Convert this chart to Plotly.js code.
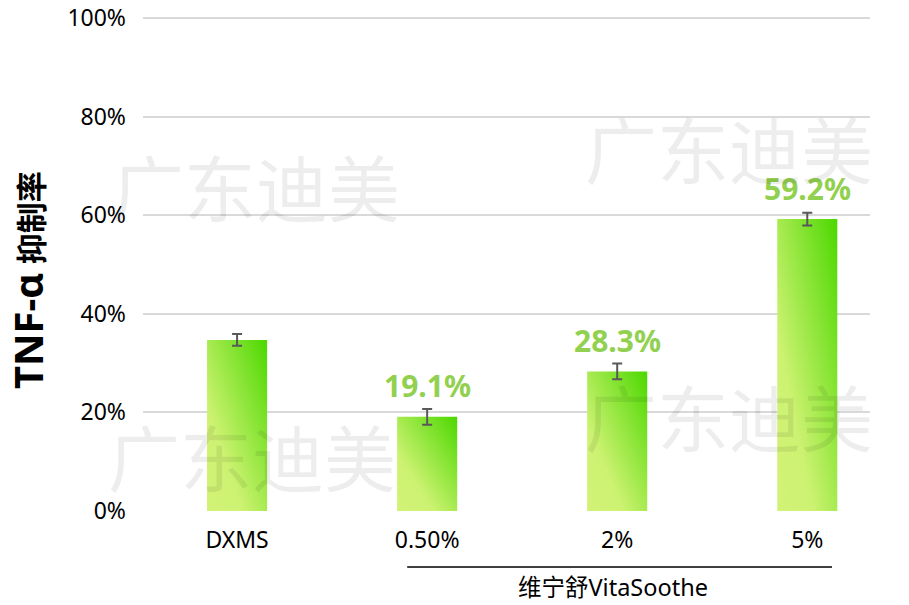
<!DOCTYPE html>
<html>
<head>
<meta charset="utf-8">
<script src="https://cdn.plot.ly/plotly-3.0.1.min.js"></script>
<style>html,body{margin:0;padding:0;background:#fff;}#chart{width:909px;height:605px;}</style>
</head>
<body>
<div id="chart"></div>
<script>
const categories = ['DXMS', '0.50%', '2%', '5%'];
const values = [34.7, 19.1, 28.3, 59.2];
const errors = [1.2, 1.6, 1.6, 1.3];
const valueLabels = ['', '19.1%', '28.3%', '59.2%'];
const yTickVals = [0, 20, 40, 60, 80, 100];
const yTickText = ['0%', '20%', '40%', '60%', '80%', '100%'];
const groupLabel = '维宁舒VitaSoothe';
const yTitleLatin = 'TNF-α';
const yTitleCJK = '抑制率';
const watermark = '广东迪美';

const FONT = 'Noto Sans, Noto Sans CJK SC, sans-serif';

const trace = {
  type: 'bar',
  x: categories,
  y: values,
  width: 0.316,
  marker: {color: '#9be64a'},
  error_y: {type: 'data', array: errors, visible: true, color: '#595959', thickness: 2, width: 5},
  hoverinfo: 'none'
};

const L = 143, R = 870, T = 13, B = 511;
const YMAX = 101.0;
const py = v => (B - v) / (B - T);
const px = v => (v - L) / (R - L);

const annotations = [];
categories.forEach((c, i) => {
  if (valueLabels[i]) {
    annotations.push({
      x: c, y: values[i], xref: 'x', yref: 'y',
      text: valueLabels[i], showarrow: false,
      yanchor: 'middle', yshift: 31,
      font: {family: FONT, size: 30, color: '#92d050', weight: 'bold'}
    });
  }
});
// watermarks
const wm = [[256, 188], [729, 150], [252, 458], [729, 418]];
wm.forEach(p => {
  annotations.push({
    xref: 'paper', yref: 'paper', x: px(p[0]), y: py(p[1]),
    text: watermark, showarrow: false, xanchor: 'center', yanchor: 'middle',
    font: {family: FONT, size: 72, color: 'rgba(0,0,0,0.07)'}
  });
});
// y title
annotations.push({
  xref: 'paper', yref: 'paper', x: px(27), y: py(280),
  text: '<b><span style="font-size:40px">' + yTitleLatin + '</span> ' + yTitleCJK + '</b>',
  textangle: -90, showarrow: false, xanchor: 'center', yanchor: 'middle',
  font: {family: FONT, size: 31, color: '#000'}
});
// group label
annotations.push({
  xref: 'x', yref: 'paper', x: categories[2], y: py(587), xshift: -4,
  text: groupLabel, showarrow: false, xanchor: 'center', yanchor: 'middle',
  font: {family: FONT, size: 23.5, color: '#000'}
});

const layout = {
  width: 909, height: 605,
  margin: {l: L, r: 909 - R, t: T, b: 605 - B, pad: 0},
  paper_bgcolor: '#fff', plot_bgcolor: '#fff',
  showlegend: false,
  xaxis: {
    type: 'category', range: [-0.495, 3.33],
    showgrid: false, zeroline: false, showline: false, ticks: '',
    tickfont: {family: FONT, size: 23, color: '#000'},
    automargin: false, ticklabelstandoff: 13
  },
  yaxis: {
    range: [0, YMAX], tickvals: yTickVals, ticktext: yTickText,
    showgrid: true, gridcolor: '#d9d9d9', gridwidth: 2, zeroline: false, showline: false,
    ticks: '', tickfont: {family: FONT, size: 23, color: '#000'},
    automargin: false, ticklabelstandoff: 16
  },
  shapes: [{
    type: 'line', xref: 'x', yref: 'paper',
    x0: 0.895, x1: 3.13, y0: py(567), y1: py(567),
    line: {color: '#000', width: 1.5}
  }],
  annotations: annotations
};

Plotly.newPlot('chart', [trace], layout, {displayModeBar: false, staticPlot: true}).then(gd => {
  const svg = gd.querySelector('.main-svg');
  const ns = 'http://www.w3.org/2000/svg';
  let defs = svg.querySelector('defs');
  if (!defs) { defs = document.createElementNS(ns, 'defs'); svg.insertBefore(defs, svg.firstChild); }
  const g = document.createElementNS(ns, 'linearGradient');
  g.setAttribute('id', 'barGrad');
  g.setAttribute('x1', '0'); g.setAttribute('y1', '1');
  g.setAttribute('x2', '1'); g.setAttribute('y2', '0');
  [['0', '#d2f276'], ['0.3', '#cdf272'], ['1', '#4cd800']].forEach(s => {
    const st = document.createElementNS(ns, 'stop');
    st.setAttribute('offset', s[0]); st.setAttribute('stop-color', s[1]);
    g.appendChild(st);
  });
  defs.appendChild(g);
  gd.querySelectorAll('.bars .point path').forEach(p => { p.style.fill = 'url(#barGrad)'; });
});
</script>
</body>
</html>
